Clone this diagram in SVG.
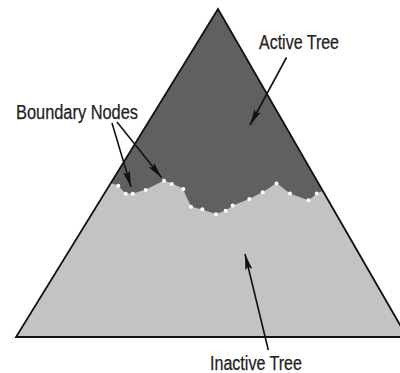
<svg xmlns="http://www.w3.org/2000/svg" width="400" height="373" viewBox="0 0 400 373">
<style>
.lbl{font-family:"Liberation Sans",Arial,sans-serif;font-size:20px;fill:#222;stroke:#222;stroke-width:0.25}
.conn{stroke:#111;stroke-width:1.6;fill:none}
.dot{fill:#fff}
</style>
<defs>
<marker id="ah" markerUnits="userSpaceOnUse" viewBox="0 0 16 7" refX="16" refY="3.5" markerWidth="16" markerHeight="7" orient="auto">
<path d="M0,0 L16,3.5 L0,7 L3,3.5 z" fill="#111"/>
</marker>
</defs>
<rect width="400" height="373" fill="#fff"/>
<g id="tree">
<polygon id="inactive-region" points="218,9 16,337 407,337" fill="#c3c3c3"/>
<polygon id="active-region" points="218,9 111,183 118,185.5 125.5,193.5 133,193.5 146,189.5 155,185 164,180.5 172,183.5 183,188.5 186,196 190,204 191,206.5 202,209.5 216,214 226,210.5 233,205.5 249,199 263,192 276.5,183 290,193.5 308.5,200.3 317,193.5 322.5,191" fill="#606060"/>
<polygon id="outline" points="218,9 16,337 407,337" fill="none" stroke="#111" stroke-width="1.8" stroke-linejoin="miter"/>
</g>
<g id="boundary-nodes">
<circle class="dot" cx="118.3" cy="185.7" r="2"/>
<circle class="dot" cx="125.7" cy="193.8" r="2"/>
<circle class="dot" cx="132.7" cy="193.8" r="2"/>
<circle class="dot" cx="145.7" cy="190" r="2"/>
<circle class="dot" cx="164" cy="180.7" r="2"/>
<circle class="dot" cx="171.7" cy="184" r="2"/>
<circle class="dot" cx="183.3" cy="189" r="2"/>
<circle class="dot" cx="191" cy="206.7" r="2"/>
<circle class="dot" cx="202.3" cy="209.3" r="2"/>
<circle class="dot" cx="216" cy="214.3" r="2"/>
<circle class="dot" cx="225.7" cy="210.7" r="2"/>
<circle class="dot" cx="232.7" cy="205.5" r="2"/>
<circle class="dot" cx="249.3" cy="199" r="2"/>
<circle class="dot" cx="262.7" cy="192.3" r="2"/>
<circle class="dot" cx="276.5" cy="183.5" r="2"/>
<circle class="dot" cx="290" cy="193.5" r="2"/>
<circle class="dot" cx="308.5" cy="200.3" r="2"/>
<circle class="dot" cx="316.8" cy="193.5" r="2"/>
</g>
<g id="connectors">
<line class="conn" x1="286.5" y1="57.5" x2="250" y2="125" marker-end="url(#ah)"/>
<line class="conn" x1="112" y1="123" x2="131" y2="187" marker-end="url(#ah)"/>
<line class="conn" x1="117" y1="122" x2="161.5" y2="177.5" marker-end="url(#ah)"/>
<line class="conn" x1="268.3" y1="350" x2="245" y2="254" marker-end="url(#ah)"/>
</g>
<g id="labels">
<text id="label-active" class="lbl" x="259" y="49" textLength="80" lengthAdjust="spacingAndGlyphs">Active Tree</text>
<text id="label-boundary" class="lbl" x="16" y="119" textLength="122" lengthAdjust="spacingAndGlyphs">Boundary Nodes</text>
<text id="label-inactive" class="lbl" x="210" y="370" textLength="92" lengthAdjust="spacingAndGlyphs">Inactive Tree</text>
</g>
</svg>
